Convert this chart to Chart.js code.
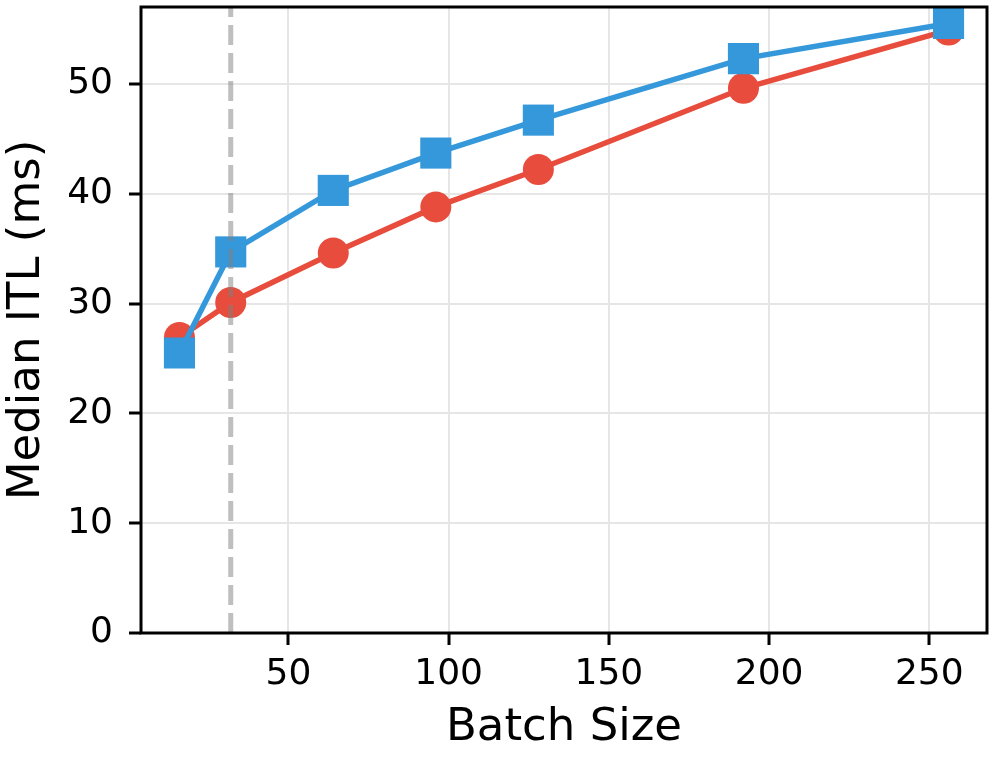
<!DOCTYPE html>
<html>
<head>
<meta charset="utf-8">
<script src="https://cdn.jsdelivr.net/npm/chart.js@4.4.1/dist/chart.umd.min.js"></script>
<style>
  html, body { margin: 0; padding: 0; background: #fff; }
  #wrap { width: 996px; height: 760px; position: relative; }
</style>
</head>
<body>
<div id="wrap"><canvas id="chart"></canvas></div>
<script>
// values
const batchSizes = [16, 32, 64, 96, 128, 192, 256];
const redSeries = [26.9, 30.1, 34.6, 38.8, 42.2, 49.6, 54.9];
const blueSeries = [25.5, 34.7, 40.3, 43.7, 46.7, 52.3, 55.5];
const markerBatch = 32;

const xTicks = [50, 100, 150, 200, 250];
const yTicks = [0, 10, 20, 30, 40, 50];

const toPoints = vals => batchSizes.map((b, i) => ({ x: b, y: vals[i] }));

const frameAndLine = {
    id: "frameAndLine",
    afterDatasetsDraw(chart) {
        const { ctx, chartArea, scales } = chart;
        const px = scales.x.getPixelForValue(markerBatch);
        ctx.save();
        ctx.strokeStyle = "rgba(128,128,128,0.5)";
        ctx.lineWidth = 5;
        ctx.setLineDash([20, 8]);
        ctx.beginPath();
        ctx.moveTo(px, chartArea.bottom);
        ctx.lineTo(px, chartArea.top);
        ctx.stroke();
        ctx.restore();
    },
    afterDraw(chart) {
        const { ctx, chartArea } = chart;
        ctx.save();
        ctx.strokeStyle = "#000";
        ctx.lineWidth = 3;
        ctx.strokeRect(chartArea.left, chartArea.top,
            chartArea.right - chartArea.left, chartArea.bottom - chartArea.top);
        ctx.restore();
    }
};

Chart.defaults.font.family = "'DejaVu Sans', sans-serif";
Chart.defaults.color = "#000";

new Chart(document.getElementById("chart"), {
    type: "line",
    data: {
        datasets: [
            {
                label: "blue",
                data: toPoints(blueSeries),
                borderColor: "#3498db",
                backgroundColor: "#3498db",
                borderWidth: 5.5,
                pointStyle: "rect",
                pointRadius: 22,
                pointHoverRadius: 22,
                pointBorderWidth: 0,
                clip: false
            },
            {
                label: "red",
                data: toPoints(redSeries),
                borderColor: "#e74c3c",
                backgroundColor: "#e74c3c",
                borderWidth: 5.5,
                pointStyle: "circle",
                pointRadius: 15.5,
                pointHoverRadius: 15.5,
                pointBorderWidth: 0,
                clip: false
            }
        ]
    },
    options: {
        responsive: true,
        maintainAspectRatio: false,
        animation: false,
        layout: { autoPadding: false, padding: { top: 7, right: 9, left: 0, bottom: 0 } },
        plugins: {
            legend: { display: false },
            tooltip: { enabled: false }
        },
        scales: {
            x: {
                type: "linear",
                min: 4,
                max: 268,
                afterFit(scale) {
                    scale.height = 127;
                    scale.paddingLeft = 0;
                    scale.paddingRight = 0;
                },
                afterBuildTicks(scale) { scale.ticks = xTicks.map(v => ({ value: v })); },
                ticks: {
                    font: { size: 36 },
                    padding: 8,
                    maxRotation: 0
                },
                grid: {
                    color: "#e6e6e6",
                    lineWidth: 2,
                    tickColor: "#000",
                    tickWidth: 3,
                    tickLength: 12
                },
                border: { display: false },
                title: {
                    display: true,
                    text: "Batch Size",
                    font: { size: 45 },
                    padding: { top: 0, bottom: 5 }
                }
            },
            y: {
                min: 0,
                max: 57,
                afterFit(scale) {
                    scale.width = 141;
                    scale.paddingTop = 0;
                    scale.paddingBottom = 0;
                },
                afterBuildTicks(scale) { scale.ticks = yTicks.map(v => ({ value: v })); },
                ticks: {
                    font: { size: 36 },
                    padding: 16
                },
                grid: {
                    color: "#e6e6e6",
                    lineWidth: 2,
                    tickColor: "#000",
                    tickWidth: 3,
                    tickLength: 12
                },
                border: { display: false },
                title: {
                    display: true,
                    text: "Median ITL (ms)",
                    font: { size: 45 },
                    padding: { top: 0, bottom: 0 }
                }
            }
        }
    },
    plugins: [frameAndLine]
});
</script>
</body>
</html>
